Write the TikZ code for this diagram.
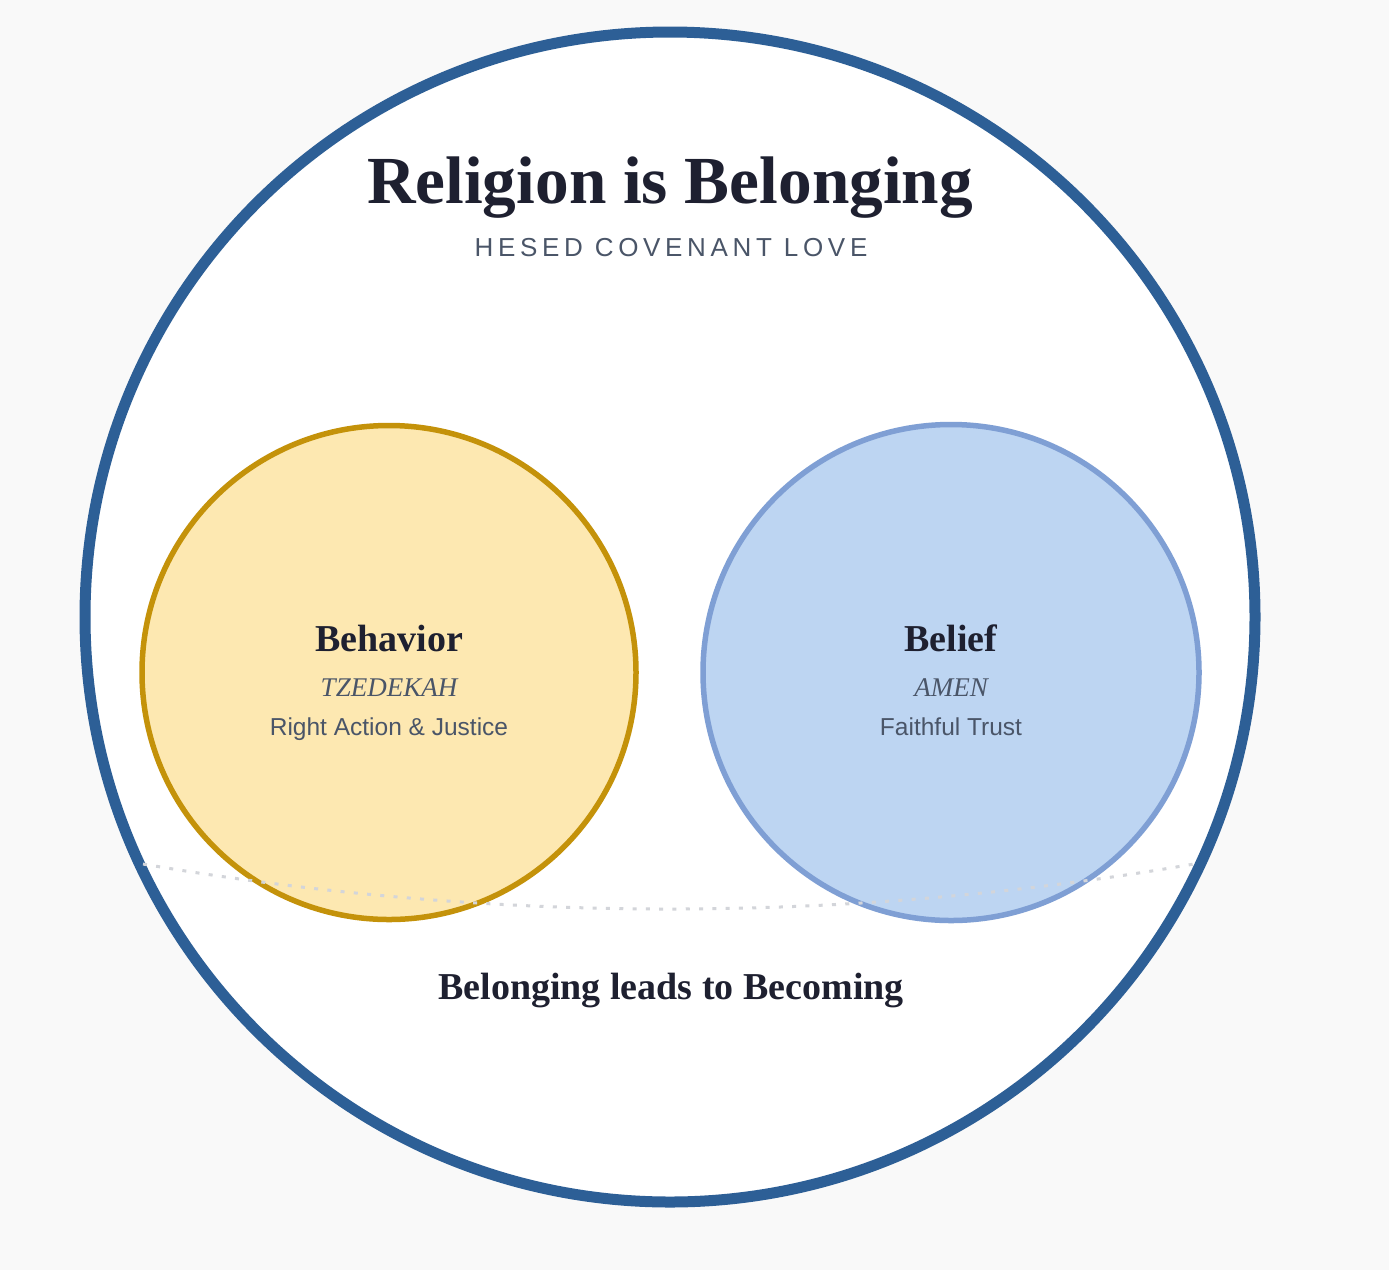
\documentclass[tikz,border=0pt]{standalone}
\usepackage{fontspec}
\setmainfont{Liberation Serif}
\setsansfont{Liberation Sans}
\definecolor{pagebg}{HTML}{F9F9F9}
\definecolor{ringblue}{HTML}{2D5F96}
\definecolor{goldline}{HTML}{C4920A}
\definecolor{goldfill}{HTML}{FDE8B1}
\definecolor{blueline}{HTML}{7F9FD4}
\definecolor{bluefill}{HTML}{BDD5F2}
\definecolor{inkdark}{HTML}{1E2030}
\definecolor{inkgray}{HTML}{4A5568}
\definecolor{dotgray}{HTML}{D3D5DA}
\tikzset{
  titletext/.style={font=\fontsize{67.3}{70}\selectfont\bfseries, text=inkdark, anchor=base, inner sep=0pt},
  subtext/.style={font=\sffamily\fontsize{26}{28}\selectfont\addfontfeature{LetterSpace=18}, text=inkgray, anchor=base, inner sep=0pt},
  headtext/.style={font=\fontsize{38}{40}\selectfont\bfseries, text=inkdark, anchor=base, inner sep=0pt},
  hebtext/.style={font=\fontsize{27}{30}\selectfont\itshape, text=inkgray, anchor=base, inner sep=0pt},
  desctext/.style={font=\sffamily\fontsize{24.5}{27}\selectfont, text=inkgray, anchor=base, inner sep=0pt},
  ring/.style={circle, draw=ringblue, line width=11pt, fill=white, minimum size=1170pt, inner sep=0pt},
  goldcircle/.style={circle, draw=goldline, line width=5.5pt, fill=goldfill, minimum size=494pt, inner sep=0pt},
  bluecircle/.style={circle, draw=blueline, line width=5.5pt, fill=bluefill, minimum size=496pt, inner sep=0pt},
  dotarc/.style={draw=dotgray, line width=3pt, dash pattern=on 4pt off 9.3pt},
}
\begin{document}
\begin{tikzpicture}[x=1pt,y=-1pt]
\useasboundingbox[fill=pagebg] (0,0) rectangle (1389,1270);
\node[ring] (outer) at (670,617) {};
\node[goldcircle] (behav) at (389,672.5) {};
\node[bluecircle] (belief) at (951,672.5) {};
\coordinate (arcL) at (143,864);
\coordinate (arcR) at (1194,864);
\draw[dotarc] (arcL) .. controls (494,924) and (845,924) .. (arcR);
\node[titletext] (title) at (670,203) {Religion is Belonging};
\node[subtext] (sub) at (671,256) {HESED COVENANT LOVE};
\node[headtext] (behavhead) at (389,651) {Behavior};
\node[hebtext] (behavheb) at (389,696) {TZEDEKAH};
\node[desctext] (behavdesc) at (389,735) {Right Action \& Justice};
\node[headtext] (beliefhead) at (951,651) {Belief};
\node[hebtext] (beliefheb) at (951,696) {AMEN};
\node[desctext] (beliefdesc) at (951,735) {Faithful Trust};
\node[headtext] (footer) at (671,999) {Belonging leads to Becoming};
\end{tikzpicture}
\end{document}
